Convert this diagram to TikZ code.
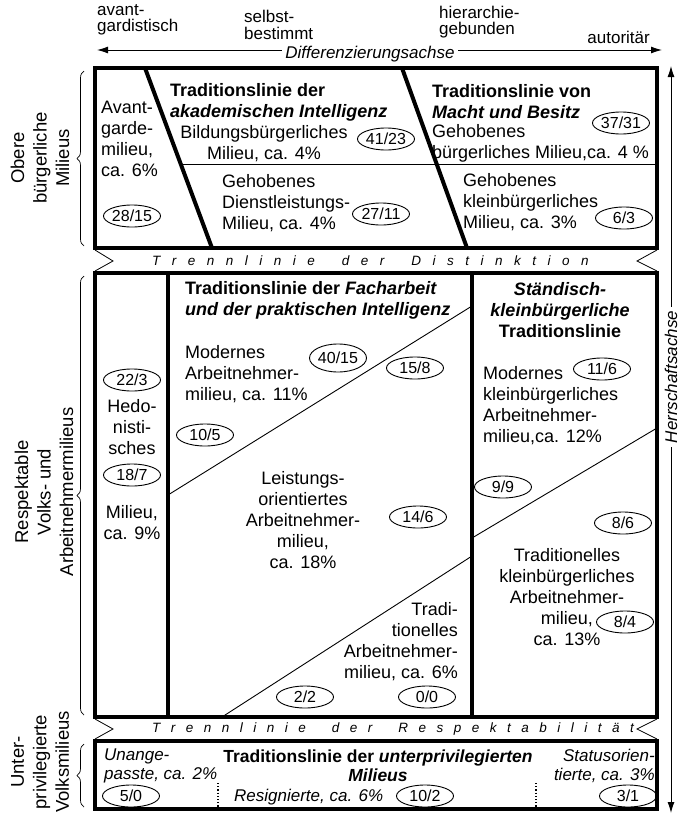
\documentclass[tikz,border=0pt]{standalone}
\usepackage{fontspec}
\setmainfont{Liberation Sans}
\usepackage{tikz}
\usetikzlibrary{arrows.meta,shapes.geometric,decorations.pathreplacing}

\begin{document}
\begin{tikzpicture}[
  x=1pt, y=-1pt,
  font=\fontsize{18}{21}\selectfont,
  every node/.style={inner sep=0pt},
  frame/.style={line width=4pt},
  cut/.style={line width=4pt},
  divider/.style={line width=0.9pt},
  notch/.style={line width=0.8pt},
  share/.style={draw,ellipse,line width=0.9pt,minimum width=57pt,minimum height=22pt,font=\fontsize{16}{16}\selectfont},
  head/.style={font=\fontsize{18}{21}\selectfont\bfseries},
  pole/.style={anchor=west,align=left,font=\fontsize{17}{16.5}\selectfont},
  axis/.style={{Latex[length=11pt,width=7pt]}-{Latex[length=11pt,width=7pt]},line width=0.9pt},
  axislabel/.style={fill=white,inner xsep=3pt,inner ysep=0pt,font=\fontsize{17}{17}\selectfont\itshape},
  band/.style={anchor=west,font=\fontsize{13.5}{14}\selectfont\itshape},
  group/.style={rotate=90,align=center,font=\fontsize{18.5}{22.5}\selectfont},
  span/.style={decorate,decoration={brace,amplitude=7pt},line width=0.7pt},
  low/.style={font=\fontsize{17}{19}\selectfont\itshape}]

  \useasboundingbox (0,0) rectangle (682,817);

  % Axes
  \coordinate (diffL) at (97,50);
  \coordinate (diffR) at (662,50);
  \coordinate (herrT) at (671,66);
  \coordinate (herrB) at (671,813);
  \draw[axis] (diffL) -- (diffR);
  \draw[axis] (herrT) -- (herrB);
  \node[axislabel] (diffachse) at (370,54) {Differenzierungsachse};
  \node[axislabel,rotate=90,inner xsep=4pt] (herrachse) at (671,377) {Herrschaftsachse};

  \node[pole] (avant) at (97,20) {avant-\\gardistisch};
  \node[pole] (selbst) at (244,25) {selbst-\\bestimmt};
  \node[pole] (hierarchie) at (439,22) {hierarchie-\\gebunden};
  \node[pole,anchor=east] (autoritaer) at (650,37) {autoritär};

  % Frames and splits
  \draw[frame] (95,68) rectangle (657,248);
  \draw[frame] (95,273) rectangle (657,717);
  \draw[frame] (95,741) rectangle (657,809);
  \draw[cut] (145,68) -- (212,248);
  \draw[cut] (402,68) -- (467,248);
  \draw[divider] (181,164) -- (657,164);
  \draw[cut] (168,273) -- (168,717);
  \draw[cut] (472,273) -- (472,717);
  \draw[divider] (168,495) -- (472,306);
  \draw[divider] (222,717) -- (472,556);
  \draw[divider] (472,538) -- (657,428);
  \draw[dotted,line width=1.2pt] (218,783) -- (218,807);
  \draw[dotted,line width=1.2pt] (536,783) -- (536,807);

  % Separating bands
  \draw[notch] (95,250) -- (113,261) -- (95,271);
  \draw[notch] (657,250) -- (637,261) -- (657,271);
  \draw[notch] (95,719) -- (113,729) -- (95,739);
  \draw[notch] (657,719) -- (637,729) -- (657,739);
  \node[band] (distinktion) at (152,261) {\spaceskip=11.5pt\relax T r e n n l i n i e\hspace{27pt}d e r\hspace{27pt}D i s t i n k t i o n};
  \node[band] (respektab) at (152,729) {\spaceskip=10.5pt\relax T r e n n l i n i e\hspace{26pt}d e r\hspace{26pt}R e s p e k t a b i l i t ä t};

  % Upper milieus
  \node[anchor=west,align=left] (avantgarde) at (101,139) {Avant-\\garde-\\milieu,\\ca. 6\%};
  \node[share] (s2815) at (132,216) {28/15};
  \node[head,anchor=west,align=left] (akad) at (170,102) {Traditionslinie der\\\textit{akademischen Intelligenz}};
  \node[align=center] (bildung) at (264,144) {Bildungsbürgerliches\\Milieu, ca. 4\%};
  \node[share] (s4123) at (386,139) {41/23};
  \node[anchor=west,align=left] (dienst) at (222,203) {Gehobenes\\Dienstleistungs-\\Milieu, ca. 4\%};
  \node[share] (s2711) at (381,214) {27/11};
  \node[head,anchor=west,align=left] (macht) at (432,102) {Traditionslinie von\\\textit{Macht und Besitz}};
  \node[anchor=west,align=left] (gehoben) at (432,143) {Gehobenes\\bürgerliches Milieu,ca. 4 \%};
  \node[share] (s3731) at (621,123) {37/31};
  \node[anchor=west,align=left] (kleinb) at (463,202) {Gehobenes\\kleinbürgerliches\\Milieu, ca. 3\%};
  \node[share] (s63) at (624,218) {6/3};

  % Respectable milieus
  \node[share] (s223) at (132,380) {22/3};
  \node[align=center] (hedo) at (132,427) {Hedo-\\nisti-\\sches};
  \node[share] (s187) at (132,475) {18/7};
  \node[align=center] (hedomil) at (132,523) {Milieu,\\ca. 9\%};
  \node[head,anchor=west,align=left] (fach) at (185,300) {Traditionslinie der \textit{Facharbeit}\\\textit{und der praktischen Intelligenz}};
  \node[anchor=west,align=left] (modern) at (185,374) {Modernes\\Arbeitnehmer-\\milieu, ca. 11\%};
  \node[share,minimum height=28pt] (s4015) at (338,358) {40/15};
  \node[share] (s105) at (205,435) {10/5};
  \node[share] (s158) at (415,368) {15/8};
  \node[align=center] (leistung) at (303,520) {Leistungs-\\orientiertes\\Arbeitnehmer-\\milieu,\\ca. 18\%};
  \node[share] (s146) at (418,517) {14/6};
  \node[anchor=east,align=right] (tradi) at (458,642) {Tradi-\\tionelles\\Arbeitnehmer-\\milieu, ca. 6\%};
  \node[share] (s22) at (305,697) {2/2};
  \node[share] (s00) at (427,697) {0/0};
  \node[head,align=center] (staend) at (560,310) {\textit{Ständisch-}\\\textit{kleinbürgerliche}\\Traditionslinie};
  \node[anchor=west,align=left] (modklein) at (483,406) {Modernes\\kleinbürgerliches\\Arbeitnehmer-\\milieu,ca. 12\%};
  \node[share] (s116) at (602,369) {11/6};
  \node[share] (s99) at (503,487) {9/9};
  \node[share] (s86) at (623,523) {8/6};
  \node[align=center] (tradklein) at (567,597) {Traditionelles\\kleinbürgerliches\\Arbeitnehmer-\\milieu,\hspace*{24pt}\\ca. 13\%};
  \node[share] (s84) at (625,622) {8/4};

  % Underprivileged milieus
  \node[low,anchor=west,align=left] (unange) at (104,766) {Unange-\\passte, ca. 2\%};
  \node[share] (s50) at (131,796) {5/0};
  \node[align=center,font=\fontsize{17.5}{19}\selectfont\bfseries] (unterpriv) at (378,766) {Traditionslinie der \textit{unterprivilegierten}\\\textit{Milieus}};
  \node[low,anchor=west] (resig) at (234,797) {Resignierte, ca. 6\%};
  \node[share] (s102) at (425,796) {10/2};
  \node[low,anchor=east,align=right] (status) at (655,766) {Statusorien-\\tierte, ca. 3\%};
  \node[share] (s31) at (628,796) {3/1};

  % Groups on the left
  \node[group] (obere) at (40,158) {Obere\\bürgerliche\\Milieus};
  \node[group] (respekt) at (44,492) {Respektable\\Volks- und\\Arbeitnehmermilieus};
  \node[group] (unterpr) at (40,762) {Unter-\\privilegierte\\Volksmilieus};
  \draw[span] (84,246) -- (84,71);
  \draw[span] (84,715) -- (84,276);
  \draw[span] (84,807) -- (84,744);
\end{tikzpicture}
\end{document}
